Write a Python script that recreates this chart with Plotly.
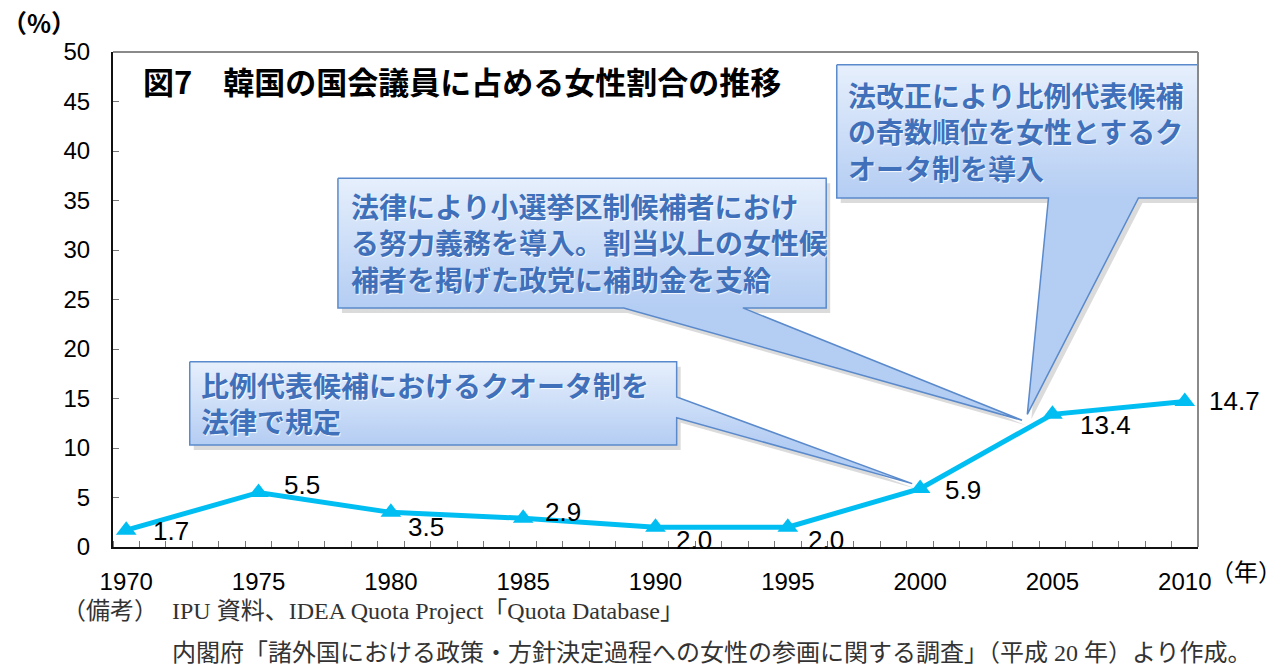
import plotly.graph_objects as go

# ---------------- data ----------------
years = [1970, 1975, 1980, 1985, 1990, 1995, 2000, 2005, 2010]
share = [1.7, 5.5, 3.5, 2.9, 2.0, 2.0, 5.9, 13.4, 14.7]
value_labels = ["1.7", "5.5", "3.5", "2.9", "2.0", "2.0", "5.9", "13.4", "14.7"]
x_tick_vals = [1970, 1975, 1980, 1985, 1990, 1995, 2000, 2005, 2010]
x_tick_text = ["1970", "1975", "1980", "1985", "1990", "1995", "2000", "2005", "2010"]
y_tick_vals = [0, 5, 10, 15, 20, 25, 30, 35, 40, 45, 50]

title_text = "図7　韓国の国会議員に占める女性割合の推移"
callout_texts = [
    "比例代表候補におけるクオータ制を<br>法律で規定",
    "法律により小選挙区制候補者におけ<br>る努力義務を導入。割当以上の女性候<br>補者を掲げた政党に補助金を支給",
    "法改正により比例代表候補<br>の奇数順位を女性とするク<br>オータ制を導入",
]
note_lines = [
    "（備考）",
    "IPU 資料、IDEA Quota Project「Quota Database」",
    "内閣府「諸外国における政策・方針決定過程への女性の参画に関する調査」（平成 20 年）より作成。",
]

# ---------------- style / layout ----------------
W, H = 1281, 666
ML, MR, MT, MB = 113, 83, 52, 119
X0, X1 = 1969.5, 2010.5
Y0, Y1 = 0, 50
LINE_COLOR = "#00BEF2"
CALLOUT_TEXT = "#4070BA"
CALLOUT_EDGE = "#5A8ACB"

# label offsets (px) relative to each point
label_dx = [27, 25, 17, 22, 20, 20, 25, 28, 24]
label_dy = [-1, 8, -15, 6, -13, -13, -1, -11, 0]

# callout geometry in data units: box (x0, x1, y_bottom, y_top) and pointer
callouts = [
    dict(box=(1972.4, 1990.8, 10.3, 18.7), side="right", base=(15.15, 13.05), tip=(1999.7, 6.4),
         text_at=(1972.75, 14.55)),
    dict(box=(1978.0, 1996.45, 24.15, 37.25), side="bottom", base=(1988.8, 1993.3), tip=(2003.85, 12.8),
         text_at=(1978.4, 30.8)),
    dict(box=(1996.85, 2010.6, 35.25, 48.7), side="bottom", base=(2004.85, 2008.25), tip=(2004.05, 13.4),
         text_at=(1997.2, 42.0)),
]

px_x = (W - ML - MR) / (X1 - X0)
px_y = (H - MT - MB) / (Y1 - Y0)


def outline(c):
    x0, x1, yb, yt = c["box"]
    tx, ty = c["tip"]
    b1, b2 = c["base"]
    if c["side"] == "right":
        xs = [x0, x1, x1, tx, x1, x1, x0, x0]
        ys = [yt, yt, b1, ty, b2, yb, yb, yt]
    else:
        xs = [x0, x1, x1, b2, tx, b1, x0, x0]
        ys = [yt, yt, yb, yb, ty, yb, yb, yt]
    return xs, ys


fig = go.Figure()

# callouts (shadow + gradient body)
for c in callouts:
    xs, ys = outline(c)
    sx = [v + 4 / px_x for v in xs]
    sy = [v - 5 / px_y for v in ys]
    fig.add_trace(go.Scatter(x=sx, y=sy, mode="lines", fill="toself",
                             fillcolor="rgba(90,90,90,0.22)", line=dict(width=0),
                             hoverinfo="skip", showlegend=False))
    fig.add_trace(go.Scatter(
        x=xs, y=ys, mode="lines", fill="toself",
        fillgradient=dict(type="vertical",
                          colorscale=[[0, "#B4CDF3"], [1, "#E6EFFC"]],
                          start=c["box"][2], stop=c["box"][3]),
        line=dict(color=CALLOUT_EDGE, width=1.5),
        hoverinfo="skip", showlegend=False))

# data line
fig.add_trace(go.Scatter(
    x=years, y=share, mode="lines+markers",
    line=dict(color=LINE_COLOR, width=5),
    marker=dict(symbol="triangle-up", size=18, color=LINE_COLOR),
    showlegend=False, cliponaxis=False))

annotations = []
for xv, yv, t, dx, dy in zip(years, share, value_labels, label_dx, label_dy):
    annotations.append(dict(x=xv, y=yv, xref="x", yref="y", text=t, showarrow=False,
                            xanchor="left", yanchor="middle", xshift=dx - 2, yshift=dy,
                            font=dict(family="Liberation Sans, Arial, sans-serif", size=26, color="#000")))

for c, t in zip(callouts, callout_texts):
    annotations.append(dict(x=c["text_at"][0], y=c["text_at"][1], xref="x", yref="y", text=t,
                            showarrow=False, xanchor="left", yanchor="middle", align="left",
                            font=dict(family="Noto Sans CJK JP", size=28, color=CALLOUT_TEXT,
                                      weight="bold", shadow="1px 1px 1px rgba(255,255,255,0.9)")))

def pxx(p):
    return (p - ML) / (W - ML - MR)

def pxy(p):
    return 1 - (p - MT) / (H - MT - MB)

annotations.append(dict(x=pxx(141), y=pxy(80), xref="paper", yref="paper", text=title_text,
                        showarrow=False, xanchor="left", yanchor="middle",
                        font=dict(family="Noto Sans CJK JP", size=31, color="#000", weight="bold")))
annotations.append(dict(x=pxx(0), y=pxy(22), xref="paper", yref="paper", text="（%）",
                        showarrow=False, xanchor="left", yanchor="middle",
                        font=dict(family="Noto Sans CJK JP", size=25, color="#000", weight="bold")))
annotations.append(dict(x=pxx(1208), y=pxy(570), xref="paper", yref="paper", text="（年）",
                        showarrow=False, xanchor="left", yanchor="middle",
                        font=dict(family="Noto Sans CJK JP", size=24, color="#000")))
note_font = dict(family="Liberation Serif, Noto Sans CJK JP, serif", size=24, color="#333")
annotations.append(dict(x=pxx(60), y=pxy(611), xref="paper", yref="paper", text=note_lines[0],
                        showarrow=False, xanchor="left", yanchor="middle", font=note_font))
annotations.append(dict(x=pxx(170), y=pxy(611), xref="paper", yref="paper", text=note_lines[1],
                        showarrow=False, xanchor="left", yanchor="middle", font=note_font))
annotations.append(dict(x=pxx(170), y=pxy(653), xref="paper", yref="paper", text=note_lines[2],
                        showarrow=False, xanchor="left", yanchor="middle", font=note_font))

shapes = [
    dict(type="line", xref="paper", yref="paper", x0=0, x1=1, y0=1, y1=1,
         line=dict(color="#8A8A8A", width=2)),
    dict(type="line", xref="paper", yref="paper", x0=1, x1=1, y0=0, y1=1,
         line=dict(color="#8A8A8A", width=2)),
]

fig.update_layout(
    width=W, height=H,
    margin=dict(l=ML, r=MR, t=MT, b=MB),
    paper_bgcolor="white", plot_bgcolor="white",
    annotations=annotations, shapes=shapes,
    xaxis=dict(range=[X0, X1], tickmode="array", tickvals=x_tick_vals, ticktext=x_tick_text,
               ticks="", showgrid=False, zeroline=False, showline=True, linecolor="#111", linewidth=2,
               ticklabelstandoff=12,
               tickfont=dict(family="Liberation Sans, Arial, sans-serif", size=24, color="#000"),
               minor=dict(tickmode="linear", tick0=1969.5, dtick=1, ticks="inside", ticklen=6,
                          tickcolor="#777", tickwidth=1, showgrid=False)),
    yaxis=dict(range=[Y0, Y1], tickmode="array", tickvals=y_tick_vals,
               ticks="inside", ticklen=6, tickcolor="#777", tickwidth=1,
               showgrid=False, zeroline=False, showline=True, linecolor="#111", linewidth=2,
               ticklabelstandoff=16,
               tickfont=dict(family="Liberation Sans, Arial, sans-serif", size=24, color="#000")),
)

fig.write_html("out.html", config={"displayModeBar": False},
               post_script="document.body.style.margin='0';document.body.style.padding='0';")
